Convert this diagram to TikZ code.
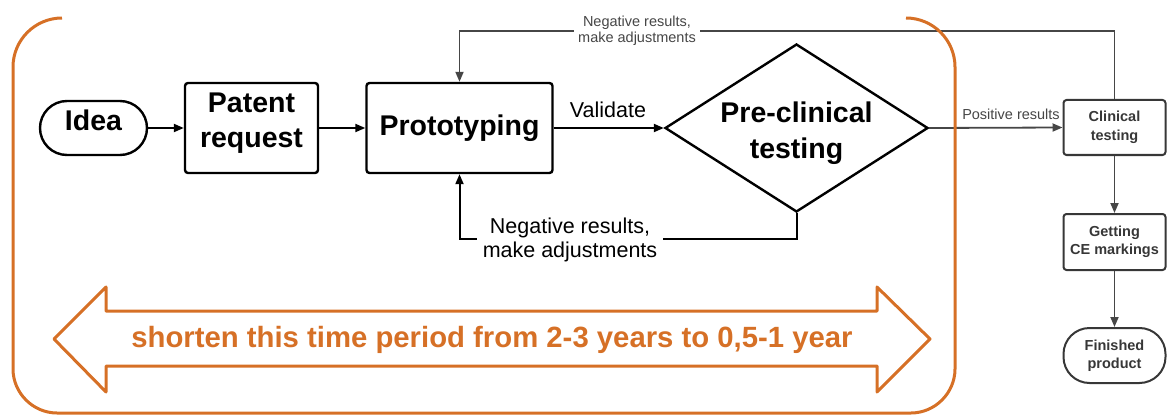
\documentclass[tikz,border=0pt]{standalone}
\usepackage{fontspec}
\setmainfont{Liberation Sans}
\usetikzlibrary{arrows.meta,shapes.geometric,calc}
\definecolor{orng}{RGB}{214,112,38}
\definecolor{dgray}{RGB}{55,55,55}
\definecolor{lgray}{RGB}{70,70,70}
\begin{document}
\begin{tikzpicture}[x=1pt,y=-1pt,
  big/.style={font=\fontsize{28.5}{35.5}\selectfont\bfseries, align=center, inner sep=0pt},
  box/.style={draw, line width=2.4pt, rounded corners=3pt, inner sep=0pt},
  term/.style={draw, line width=2.4pt, rounded corners=27pt, inner sep=0pt},
  sbox/.style={font=\fontsize{14.5}{18.5}\selectfont\bfseries, align=center, text=dgray, inner sep=0pt,
    draw=dgray, line width=2pt, rounded corners=3pt, minimum width=102pt, minimum height=55pt},
  sterm/.style={sbox, rounded corners=26pt},
  arr/.style={line width=2pt, -{Triangle[length=10pt,width=8pt]}},
  garr/.style={line width=1.8pt, draw=lgray, -{Triangle[length=10pt,width=8pt]}},
  lab/.style={font=\fontsize{21.5}{24}\selectfont, align=center, inner sep=0pt},
  slab/.style={font=\fontsize{14.5}{16.5}\selectfont, align=center, text=lgray, inner sep=0pt},
  orline/.style={draw=orng, line width=3pt, line join=round}
]
\useasboundingbox (0,0) rectangle (1167,417);

% main nodes
\node[term, minimum width=107pt, minimum height=54pt,
  label={[big, yshift=8pt]center:Idea}] (idea) at (93.5,128) {};
\node[box, minimum width=133pt, minimum height=90pt,
  label={[big, yshift=5pt]center:Patent\\request}] (patent) at (251.5,128) {};
\node[box, minimum width=186pt, minimum height=90pt,
  label={[big]center:Prototyping}] (proto) at (459.5,128) {};
\node[draw, line width=2.4pt, diamond, aspect=1.565, inner sep=0pt, minimum width=263pt, minimum height=168pt,
  label={[big, yshift=-5pt]center:Pre-clinical\\testing}] (diam) at (796.5,128) {};

% right column
\node[sbox] (clin) at (1114.5,127.5) {Clinical\\testing};
\node[sbox, minimum height=56pt] (ce) at (1114.5,242) {Getting\\CE markings};
\node[sterm] (fin) at (1114.5,355.5) {Finished\\product};

% connectors
\draw[arr] (idea.east) -- (patent.west);
\draw[arr] (patent.east) -- (proto.west);
\draw[arr] (proto.east) -- (diam.west);
\node[lab, anchor=base] (val) at (608,118) {Validate};

\draw[arr] (diam.south) -- ++(0,26) -| (proto.south);
\node[lab, fill=white, inner xsep=6pt, inner ysep=2pt] (neg1) at (570,240) {Negative results,\\make adjustments};

\draw[garr] (diam.east) -- (clin.west);
\node[slab, anchor=base] (pos) at (1011,120) {Positive results};

\draw[garr] (clin.north) -- ++(0,-68) -| (proto.north);
\node[slab, fill=white, inner xsep=4pt, inner ysep=1pt] (neg2) at (637,31) {Negative results,\\make adjustments};

\draw[garr] (clin.south) -- (ce.north);
\draw[garr] (ce.south) -- (fin.north);

% orange frame
\draw[orline] (62,18) .. controls (35,18) and (13,40) .. (13,67) -- (13,369)
  .. controls (13,393) and (33,413) .. (57,413) -- (911,413)
  .. controls (935,413) and (955,393) .. (955,369) -- (955,67)
  .. controls (955,40) and (933,18) .. (906,18);

% double arrow
\draw[orline] (54,339) -- (106,287) -- (106,311) -- (877,311) -- (877,287) -- (930,339)
  -- (877,392) -- (877,366) -- (106,366) -- (106,392) -- cycle;
\node[font=\fontsize{29.3}{31}\selectfont\bfseries, text=orng, inner sep=0pt] (note) at (492,340)
  {shorten this time period from 2-3 years to 0,5-1 year};
\end{tikzpicture}
\end{document}
